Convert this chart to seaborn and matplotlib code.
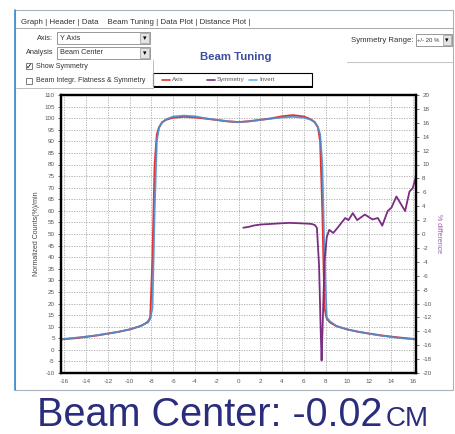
import matplotlib
matplotlib.use("Agg")
import matplotlib.pyplot as plt
import seaborn as sns
from matplotlib.patches import Rectangle

# profile data (cm vs normalized counts %)
x_prof = [-16.3, -15, -14, -13, -12, -11, -10, -9.5, -9, -8.6, -8.3, -8.1, -7.9, -7.7,
          -7.5, -7.3, -7.0, -6.6, -6.0, -5.0, -4.0, -3.0, -2.0, -1.0, 0.0, 1.0, 2.0,
          3.0, 4.0, 5.0, 6.0, 6.6, 7.0, 7.3, 7.5, 7.7, 7.9, 8.1, 8.4, 9.0, 10.0, 11.0,
          12.0, 13.0, 14.0, 15.0, 16.3]
axis_vals = [4.5, 5.0, 5.6, 6.2, 7.0, 7.8, 8.8, 9.5, 10.3, 11.2, 12.3, 14.0, 40.0, 80.0,
             93.0, 96.0, 98.3, 99.4, 100.2, 100.6, 100.3, 99.8, 99.2, 98.6, 98.3, 98.7, 99.3,
             99.9, 100.8, 101.3, 100.7, 99.6, 98.3, 96.0, 90.0, 60.0, 18.0, 13.5, 11.8, 10.2,
             8.8, 7.8, 7.0, 6.3, 5.7, 5.2, 4.6]
invert_vals = [4.6, 5.2, 5.7, 6.3, 7.0, 7.8, 8.8, 9.6, 10.2, 11.3, 11.8, 13.5, 18.0, 60.0,
               90.0, 96.0, 98.3, 99.6, 100.7, 101.1, 100.8, 99.9, 99.3, 98.7, 98.3, 98.6, 99.2,
               99.8, 100.3, 100.6, 100.2, 99.4, 98.3, 96.0, 93.0, 80.0, 40.0, 14.0, 12.3, 10.3,
               8.8, 7.8, 7.0, 6.2, 5.6, 5.0, 4.5]

# symmetry (% difference, right axis)
x_sym = [0.44, 1.0, 1.4, 2.0, 3.0, 4.0, 4.7, 5.5, 6.2, 6.7, 7.0, 7.2, 7.4, 7.55, 7.63,
         7.75, 7.9, 8.1, 8.33, 8.7, 9.15, 9.8, 10.1, 10.5, 10.9, 11.6, 12.3, 12.8, 13.2,
         13.7, 14.05, 14.5, 15.3, 15.7, 16.0, 16.3]
sym_vals = [0.9, 1.05, 1.22, 1.36, 1.45, 1.55, 1.6, 1.55, 1.5, 1.45, 1.3, 0.9, -4.6, -14.0,
            -18.2, -12.0, -4.0, -0.5, 0.6, 0.15, 1.0, 2.3, 2.0, 3.0, 2.0, 2.8, 2.1, 2.3, 1.2,
            3.3, 3.8, 5.4, 3.3, 6.1, 6.6, 8.3]

x_ticks = list(range(-16, 17, 2))
left_ticks = list(range(-10, 111, 5))
right_ticks = list(range(-20, 21, 2))

c_axis = '#e8332f'
c_invert = '#4a8fd0'
c_sym = '#7b2d82'
c_ui = '#333333'

sns.set_style("white")
plt.rcParams['font.family'] = ['Liberation Sans', 'DejaVu Sans']
plt.rcParams['axes.unicode_minus'] = False

fig = plt.figure(figsize=(4.56, 4.34), dpi=100)

# background layer in pixel coords for the window chrome
ui = fig.add_axes([0, 0, 1, 1])
ui.set_xlim(0, 456)
ui.set_ylim(434, 0)
ui.axis('off')

ui.add_patch(Rectangle((15, 10), 438, 380, fill=False, ec='#a9b4c0', lw=0.8))
ui.plot([15, 15], [10, 390], color='#3a8ad0', lw=1.2)
ui.plot([15, 453], [28, 28], color='#9a9a9a', lw=0.6)
ui.text(21, 22, "Graph | Header | Data    Beam Tuning | Data Plot | Distance Plot |",
        fontsize=5.7, color=c_ui, va='center')

# dropdowns on the left
for y0, lab, val in [(32, "Axis:", "Y Axis"), (47, "Analysis", "Beam Center")]:
    ui.text(53, y0 + 6, lab, fontsize=5.3, color=c_ui, va='center', ha='right')
    ui.add_patch(Rectangle((57, y0), 93, 12, fc='white', ec='#888888', lw=0.6))
    ui.add_patch(Rectangle((140, y0 + 1), 9, 10, fc='#e4e4e4', ec='#999999', lw=0.5))
    ui.text(144.5, y0 + 6.5, "\u25BE", fontsize=5, color='black', ha='center', va='center')
    ui.text(60, y0 + 6, val, fontsize=5.3, color=c_ui, va='center')

ui.add_patch(Rectangle((26, 63), 6, 6, fc='white', ec='#666666', lw=0.6))
ui.text(29, 66, "\u2713", fontsize=5.5, color='black', ha='center', va='center',
        family=['DejaVu Sans'])
ui.text(36, 66, "Show Symmetry", fontsize=5.1, color=c_ui, va='center')
ui.add_patch(Rectangle((26, 78), 6, 6, fc='white', ec='#666666', lw=0.6))
ui.text(36, 81, "Beam Integr. Flatness & Symmetry", fontsize=5.0, color=c_ui, va='center')
ui.plot([153, 153], [60, 88], color='#b0b0b0', lw=0.6)
ui.plot([16, 153], [88, 88], color='#b0b0b0', lw=0.6)

# right side controls
ui.text(414, 40, "Symmetry Range:", fontsize=5.6, color=c_ui, va='center', ha='right')
ui.add_patch(Rectangle((416, 34), 36, 12, fc='white', ec='#888888', lw=0.6))
ui.add_patch(Rectangle((443, 35), 8, 10, fc='#e4e4e4', ec='#999999', lw=0.5))
ui.text(447, 40.5, "\u25BE", fontsize=5, color='black', ha='center', va='center')
ui.text(417.5, 40, "+/- 20 %", fontsize=4.3, color=c_ui, va='center')
ui.plot([347, 452], [62, 62], color='#c8c8c8', lw=0.8)

ui.text(236, 57, "Beam Tuning", fontsize=8.2, fontweight='bold', color='#3b4ea0',
        ha='center', va='center')

# legend box
ui.add_patch(Rectangle((154.5, 74.5), 159, 13, fc='black', ec='black', lw=0))
ui.add_patch(Rectangle((153, 73), 159, 13, fc='white', ec='black', lw=0.8))
for x0, col, lab in [(162, c_axis, "Axis"), (207, c_sym, "Symmetry"), (249, '#6ab4ea', "Invert")]:
    ui.plot([x0, x0 + 8], [79.5, 79.5], color=col, lw=1.2)
    ui.text(x0 + 10, 79.5, lab, fontsize=4.4, color='#555555', va='center')

# the chart itself
ax = fig.add_axes([61 / 456, 61 / 434, 355 / 456, 278 / 434])
ax.set_facecolor('white')
sns.lineplot(x=x_prof, y=axis_vals, color=c_axis, lw=1.4, estimator=None, ax=ax)
sns.lineplot(x=x_prof, y=invert_vals, color=c_invert, lw=1.3, alpha=0.9, estimator=None, ax=ax)
ax.set_xlim(-16.3, 16.3)
ax.set_ylim(-10, 110)
ax.set_xticks(x_ticks)
ax.set_yticks(left_ticks)
ax.grid(True, color='#a8a8a8', lw=0.6, linestyle=(0, (1.5, 1.5)))
ax.set_ylabel("Normalized Counts(%)/min", fontsize=5, color='#444444', labelpad=3)
ax.tick_params(labelsize=4.5, colors='#555555', length=2.5, width=0.6, pad=2)

ax2 = ax.twinx()
sns.lineplot(x=x_sym, y=sym_vals, color=c_sym, lw=1.3, estimator=None, ax=ax2)
ax2.set_ylim(-20, 20)
ax2.set_yticks(right_ticks)
ax2.set_ylabel("% difference", fontsize=5, color='#9a5ab0', rotation=270, labelpad=8)
ax2.tick_params(labelsize=4.5, colors='#555555', length=2.5, width=0.6, pad=2)

for a in (ax, ax2):
    for s in a.spines.values():
        s.set_color('black')
        s.set_linewidth(1.6)

# big readout below the chart
ui.text(37, 426, "Beam Center: -0.02", fontsize=28.5, color='#2a2c7c', va='baseline')
ui.text(386, 426, "CM", fontsize=20, color='#2a2c7c', va='baseline')

fig.savefig("out.png", dpi=100)
